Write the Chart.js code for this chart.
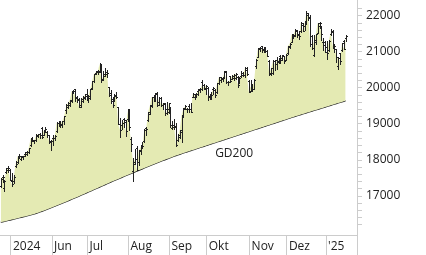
<!DOCTYPE html>
<html><head><meta charset="utf-8">
<script src="https://cdn.jsdelivr.net/npm/chart.js@4/dist/chart.umd.min.js"></script>
<style>html,body{margin:0;padding:0;background:#fff;overflow:hidden}</style>
</head><body>
<canvas id="c" width="426" height="255"></canvas>
<script>
// Daily bars, 23 Apr 2024 – 17 Jan 2025 (trading days)
const openV = [
 17280,17540,17220,17660,17780,17720,
 17430,17430,17830,17940,18120,18030,18100,18170,18230,18220,18410,18600,18540,18560,18670,18720,18900,18700,18830,18770,18690,18520,
 18620,18600,18800,19040,18970,18960,19070,19380,19540,19520,19650,19910,19970,19720,19670,19520,19650,19760,19830,
 19700,19710,19990,20190,20420,20470,20470,20650,20240,20400,20440,20020,19860,19640,19690,19780,19460,18990,18960,19150,19100,19150,
 19380,18580,17700,17940,18320,17940,18260,18420,18520,18880,19100,19290,19530,19750,19700,19870,19600,19730,19520,19560,19420,19410,
 19470,18880,18970,18940,18560,18700,18780,19230,19430,19430,19510,19420,19760,19760,19820,19920,19960,20170,20080,19960,
 20010,19760,19730,19960,19940,19890,20150,20220,20240,20310,20460,20180,20330,20260,20290,20280,20310,20190,20330,20410,20350,20500,20200,
 19930,20040,19980,20600,20860,21070,21170,21060,21050,21030,20750,20420,20420,20740,20780,20730,20880,20820,20890,20780,
 20980,21130,21290,21500,21460,21590,21510,21570,21760,21730,21810,22040,21950,21440,20910,21330,21540,21730,21700,21280,21290,
 21130,21050,21490,21580,21170,21080,20620,20960,21050,21310,21380
];
const highV = [
 17510,17590,17450,17780,17830,17760,
 17640,17570,17970,18100,18170,18100,18120,18230,18250,18330,18600,18640,18560,18710,18720,18740,18910,18820,18910,18810,18700,18560,
 18700,18700,19050,19070,19080,19080,19220,19560,19600,19670,19910,19940,19980,19780,19720,19710,19790,19830,19980,
 19800,19980,20190,20400,20460,20500,20690,20660,20480,20560,20490,20040,19950,19760,19840,19880,19460,19180,19100,19180,19120,19410,
 19430,18630,18050,18310,18400,18290,18380,18500,18850,18930,19330,19520,19760,19800,19870,19900,19760,19750,19590,19580,19600,19580,
 19480,19090,19130,19040,18710,18830,19250,19440,19520,19440,19560,19590,19860,19810,19860,19960,20000,20210,20120,20070,
 20020,19840,19880,20020,19960,20140,20300,20310,20300,20460,20480,20200,20340,20360,20380,20420,20320,20300,20480,20450,20570,20580,20230,
 20210,20110,20260,20800,21110,21150,21180,21140,21130,21060,20770,20560,20770,20770,20870,20830,20910,20930,20900,20950,
 21180,21250,21490,21510,21640,21620,21580,21830,21800,21850,22130,22080,22020,21470,21470,21500,21800,21830,21720,21380,21310,
 21310,21330,21640,21610,21230,21090,20870,20980,21260,21340,21480
];
const lowV = [
 17260,17380,17150,17630,17680,17440,
 17280,17360,17800,17920,18060,18000,18020,18100,18140,18200,18390,18540,18470,18540,18640,18610,18600,18690,18780,18650,18470,18280,
 18430,18550,18780,18950,18920,18930,18990,19310,19450,19490,19620,19850,19650,19620,19460,19480,19620,19700,19680,
 19600,19690,19980,20180,20380,20390,20440,20170,20230,20330,20300,19770,19570,19470,19640,19710,18990,18640,18870,18920,18660,19070,
 18820,18260,17430,17880,17710,17850,18180,18330,18500,18700,19080,19280,19460,19630,19640,19500,19530,19500,19410,19240,19280,19300,
 18930,18870,18850,18380,18530,18600,18510,19190,19420,19320,19340,19320,19750,19690,19750,19810,19890,19950,19970,19820,
 19660,19700,19700,19830,19760,19860,20120,20180,20200,20300,20130,20070,20170,20240,20210,20250,20030,20140,20310,20330,20300,20360,19880,
 19910,19920,19970,20560,20860,21030,21000,20990,20990,20880,20360,20370,20400,20510,20530,20690,20700,20790,20700,20770,
 20950,21110,21270,21400,21450,21430,21370,21560,21580,21600,21800,21900,21160,21080,20880,21230,21530,21670,21330,21060,20990,
 20800,21020,21460,21100,21000,20730,20540,20680,21030,21070,21310
];
const closeV = [
 17471,17527,17430,17718,17783,17441,
 17321,17541,17891,18095,18107,18080,18113,18161,18210,18322,18593,18547,18546,18684,18717,18705,18631,18809,18870,18700,18497,18536,
 18611,18672,19036,19009,19000,19074,19210,19465,19576,19659,19906,19908,19752,19700,19474,19701,19730,19789,19683,
 19780,19969,20187,20392,20439,20440,20676,20212,20332,20383,20410,19799,19698,19523,19797,19753,18997,18830,19023,19059,18797,19362,
 18903,18440,17895,18014,17720,18264,18352,18398,18839,18857,19326,19509,19755,19716,19826,19518,19721,19526,19572,19318,19322,19575,
 18960,18920,18930,18421,18650,18830,19238,19434,19487,19422,19423,19344,19840,19791,19838,19931,19967,20091,20000,20061,
 19767,19790,19801,20012,19792,20125,20292,20272,20272,20438,20178,20174,20208,20325,20361,20390,20097,20285,20351,20352,20551,20386,19890,
 20033,19974,20235,20786,21101,21118,21071,21076,21035,20897,20394,20549,20740,20667,20740,20776,20777,20922,20740,20930,
 21164,21229,21483,21440,21622,21474,21436,21810,21590,21780,22096,21980,21210,21110,21289,21491,21798,21798,21490,21207,21012,
 20975,21302,21550,21180,21170,20847,20829,20760,21240,21091,21441
];
// 200-day moving average (GD200)
const gd200 = [
 16270,16282,16295,16307,16320,16332,16345,16357,16370,16383,
 16395,16408,16421,16434,16447,16460,16474,16488,16502,16518,
 16536,16555,16574,16594,16614,16634,16655,16675,16696,16717,
 16738,16759,16780,16801,16822,16843,16864,16886,16908,16930,
 16952,16974,16996,17019,17041,17064,17087,17110,17133,17156,
 17179,17202,17225,17248,17271,17294,17317,17340,17363,17386,
 17408,17430,17452,17474,17496,17518,17540,17562,17584,17606,
 17628,17650,17671,17692,17713,17734,17755,17776,17797,17818,
 17839,17860,17881,17902,17923,17944,17965,17985,18005,18025,
 18045,18065,18084,18103,18122,18140,18158,18176,18193,18210,
 18227,18244,18261,18278,18295,18312,18329,18346,18363,18380,
 18397,18414,18431,18448,18465,18482,18499,18516,18533,18550,
 18567,18584,18601,18618,18635,18652,18669,18686,18703,18720,
 18737,18754,18771,18788,18805,18822,18839,18856,18873,18890,
 18907,18924,18941,18958,18975,18992,19009,19026,19043,19060,
 19077,19094,19111,19128,19145,19162,19179,19196,19213,19230,
 19246,19262,19278,19294,19310,19326,19342,19358,19374,19390,
 19406,19422,19438,19454,19470,19486,19502,19518,19534,19550,
 19566,19582,19598,19614,19630,19646
];
// first bar index of each month and its axis label
const monthStart = [6, 28, 47, 69, 91, 111, 134, 154, 175];
const monthLabels = ['2024', 'Jun', 'Jul', 'Aug', 'Sep', 'Okt', 'Nov', 'Dez', "'25"];
const maLabel = 'GD200';
const maLabelBar = 115;

const FONT = {family: "'Open Sans', sans-serif", size: 12};
const TXT = '#222';
const AXIS = '#cccccc';
const X_MAX = 191.1;

const ohlcPlugin = {
  id: 'ohlc',
  afterDatasetsDraw(chart) {
    const {ctx, scales: {x, y}} = chart;
    ctx.save();
    ctx.strokeStyle = '#222222';
    ctx.lineWidth = 1;
    ctx.beginPath();
    for (let i = 0; i < closeV.length; i++) {
      const px = Math.round(x.getPixelForValue(i)) + 0.5;
      const yh = Math.round(y.getPixelForValue(highV[i]));
      const yl = Math.round(y.getPixelForValue(lowV[i]));
      ctx.moveTo(px, yh); ctx.lineTo(px, yl + 1);
      const yo = Math.round(y.getPixelForValue(openV[i])) + 0.5;
      const yc = Math.round(y.getPixelForValue(closeV[i])) + 0.5;
      ctx.moveTo(px - 1.5, yo); ctx.lineTo(px - 0.5, yo);
      ctx.moveTo(px + 0.5, yc); ctx.lineTo(px + 1.5, yc);
    }
    ctx.stroke();
    // GD200 label below the line
    ctx.fillStyle = TXT;
    ctx.font = "12px 'Open Sans', sans-serif";
    ctx.textBaseline = 'alphabetic';
    ctx.textAlign = 'left';
    ctx.fillText(maLabel, x.getPixelForValue(maLabelBar), y.getPixelForValue(gd200[maLabelBar]) + 14);
    ctx.restore();
  }
};

const noPad = s => { s.paddingTop = 0; s.paddingBottom = 0; s.paddingLeft = 0; s.paddingRight = 0; };

new Chart(document.getElementById('c'), {
  type: 'line',
  data: {
    datasets: [
      {
        label: 'Kurs',
        data: closeV.map((v, i) => ({x: i, y: v})),
        borderColor: 'rgba(0,0,0,0)', borderWidth: 0, pointRadius: 0,
        backgroundColor: '#e4eab3',
        fill: {target: 1}
      },
      {
        label: 'GD200',
        data: gd200.map((v, i) => ({x: i, y: v})),
        borderColor: '#1e1e1e', borderWidth: 1.2, pointRadius: 0,
        fill: false, tension: 0
      }
    ]
  },
  options: {
    responsive: false,
    animation: false,
    devicePixelRatio: 1,
    layout: {padding: 0},
    plugins: {legend: {display: false}, tooltip: {enabled: false}, title: {display: false}},
    scales: {
      x: {
        type: 'linear', min: -0.4, max: X_MAX,
        afterBuildTicks: s => {
          s.ticks = monthStart.map(m => ({value: m - 0.5})).concat([{value: X_MAX}]);
        },
        afterFit: s => { s.height = 20; noPad(s); },
        ticks: {
          autoSkip: false, maxRotation: 0, minRotation: 0, align: 'start',
          labelOffset: 2, padding: -16, font: FONT, color: TXT,
          callback: (v, i) => (i < monthLabels.length ? monthLabels[i] : '')
        },
        grid: {drawOnChartArea: false, drawTicks: true, tickLength: 20, color: AXIS},
        border: {display: true, color: AXIS}
      },
      y: {
        position: 'right', min: 15917, max: 22444,
        afterBuildTicks: s => {
          s.ticks = s.ticks.filter(t => Math.round(t.value) % 200 === 0);
        },
        afterFit: s => { s.width = 69; noPad(s); },
        ticks: {
          stepSize: 200, autoSkip: false, padding: 4, font: FONT, color: TXT,
          callback: v => (Math.round(v) % 1000 === 0 ? String(Math.round(v)) : '')
        },
        grid: {drawOnChartArea: false, drawTicks: true, tickLength: 5, color: AXIS},
        border: {display: true, color: AXIS}
      }
    }
  },
  plugins: [ohlcPlugin]
});
</script>
</body></html>
